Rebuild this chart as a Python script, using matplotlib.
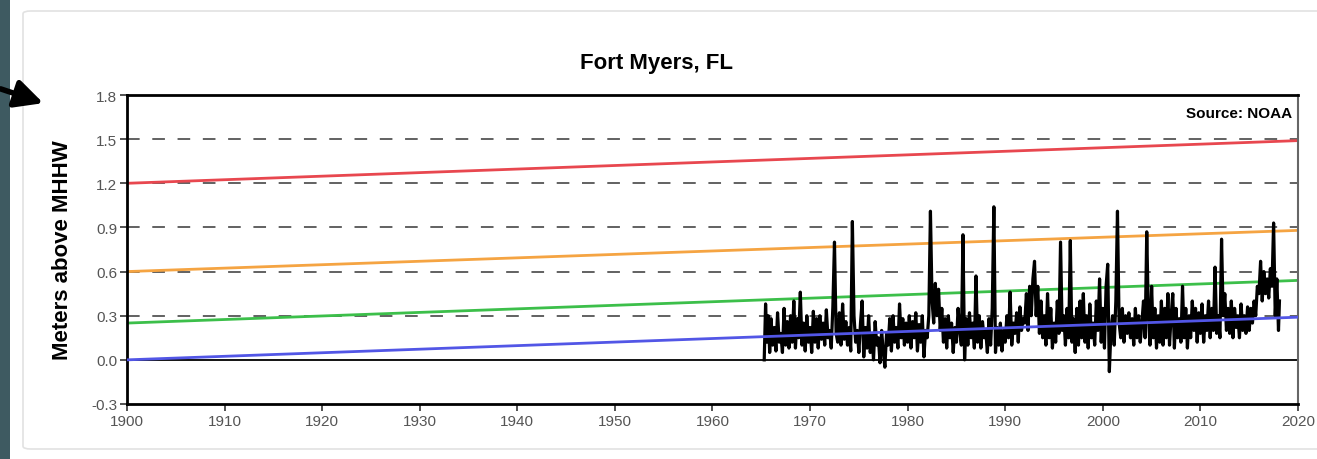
import numpy as np
import matplotlib.pyplot as plt
from matplotlib.patches import FancyBboxPatch, Rectangle, FancyArrowPatch

plt.rcParams['font.family'] = ['Liberation Sans', 'DejaVu Sans']

# reference lines (start 1900 / end 2020)
line_years = [1900, 2020]
red_line = [1.20, 1.49]
orange_line = [0.60, 0.88]
green_line = [0.25, 0.54]
blue_line = [0.00, 0.29]

# water level, ~6 readings per year, 1965.3 - 2018.2
water = {
    1965: [0.00, 0.38, 0.12, 0.30, 0.05],
    1966: [0.28, 0.10, 0.22, 0.06, 0.32, 0.12],
    1967: [0.18, 0.05, 0.35, 0.10, 0.26, 0.08],
    1968: [0.30, 0.12, 0.40, 0.08, 0.28, 0.15],
    1969: [0.46, 0.10, 0.25, 0.06, 0.30, 0.12],
    1970: [0.22, 0.05, 0.33, 0.12, 0.28, 0.08],
    1971: [0.30, 0.14, 0.25, 0.10, 0.34, 0.15],
    1972: [0.20, 0.08, 0.36, 0.80, 0.18, 0.12],
    1973: [0.32, 0.10, 0.38, 0.14, 0.26, 0.10],
    1974: [0.22, 0.06, 0.94, 0.30, 0.12, 0.20],
    1975: [0.05, 0.25, 0.40, 0.02, 0.22, 0.08],
    1976: [0.30, 0.05, 0.18, 0.00, 0.26, 0.10],
    1977: [0.15, -0.02, 0.20, 0.05, -0.05, 0.18],
    1978: [0.10, 0.28, 0.06, 0.30, 0.12, 0.22],
    1979: [0.08, 0.38, 0.15, 0.28, 0.10, 0.25],
    1980: [0.12, 0.30, 0.08, 0.26, 0.15, 0.32],
    1981: [0.06, 0.24, 0.12, 0.30, 0.02, 0.20],
    1982: [0.15, 0.30, 1.01, 0.40, 0.25, 0.52],
    1983: [0.30, 0.48, 0.20, 0.35, 0.12, 0.28],
    1984: [0.08, 0.30, 0.15, 0.25, 0.05, 0.22],
    1985: [0.12, 0.35, 0.20, 0.10, 0.85, 0.00],
    1986: [0.28, 0.10, 0.32, 0.15, 0.25, 0.08],
    1987: [0.57, 0.12, 0.30, 0.08, 0.26, 0.15],
    1988: [0.20, 0.05, 0.28, 0.10, 0.35, 1.04],
    1989: [0.05, 0.22, 0.10, 0.25, 0.06, 0.20],
    1990: [0.12, 0.30, 0.15, 0.46, 0.10, 0.25],
    1991: [0.18, 0.32, 0.12, 0.36, 0.20, 0.28],
    1992: [0.25, 0.45, 0.20, 0.50, 0.30, 0.55],
    1993: [0.67, 0.30, 0.50, 0.18, 0.40, 0.15],
    1994: [0.30, 0.10, 0.45, 0.15, 0.35, 0.08],
    1995: [0.25, 0.12, 0.40, 0.18, 0.80, 0.20],
    1996: [0.30, 0.10, 0.35, 0.15, 0.81, 0.12],
    1997: [0.28, 0.05, 0.35, 0.10, 0.40, 0.15],
    1998: [0.45, 0.12, 0.30, 0.08, 0.38, 0.15],
    1999: [0.25, 0.10, 0.40, 0.20, 0.55, 0.12],
    2000: [0.35, 0.08, 0.50, 0.65, -0.08, 0.20],
    2001: [0.30, 0.10, 0.40, 1.01, 0.25, 0.15],
    2002: [0.35, 0.12, 0.30, 0.18, 0.32, 0.15],
    2003: [0.28, 0.10, 0.35, 0.15, 0.30, 0.12],
    2004: [0.25, 0.40, 0.15, 0.87, 0.30, 0.10],
    2005: [0.50, 0.15, 0.35, 0.08, 0.30, 0.12],
    2006: [0.40, 0.10, 0.35, 0.15, 0.45, 0.10],
    2007: [0.30, 0.45, 0.08, 0.35, 0.15, 0.28],
    2008: [0.12, 0.50, 0.15, 0.35, 0.08, 0.30],
    2009: [0.15, 0.40, 0.20, 0.35, 0.12, 0.32],
    2010: [0.18, 0.38, 0.12, 0.30, 0.20, 0.40],
    2011: [0.15, 0.35, 0.20, 0.63, 0.18, 0.30],
    2012: [0.15, 0.82, 0.30, 0.45, 0.20, 0.35],
    2013: [0.18, 0.40, 0.15, 0.35, 0.22, 0.30],
    2014: [0.15, 0.38, 0.20, 0.30, 0.18, 0.36],
    2015: [0.20, 0.35, 0.25, 0.40, 0.30, 0.50],
    2016: [0.45, 0.67, 0.40, 0.60, 0.45, 0.55],
    2017: [0.42, 0.62, 0.50, 0.93, 0.30, 0.55],
    2018: [0.20, 0.40],
}

# place readings evenly within each year
wx, wy = [], []
for yr, vals in water.items():
    n = len(vals)
    start = 1965.3 if yr == 1965 else yr
    step = (yr + 1 - start) / n if yr != 2018 else 0.1
    for i, v in enumerate(vals):
        wx.append(start + i * step)
        wy.append(v)

fig = plt.figure(figsize=(13.17, 4.60), dpi=100)

# page decoration: dark strip, card border, arrow (behind the axes)
fig.patches.append(Rectangle((0, 0), 10 / 1317, 1, transform=fig.transFigure,
                             facecolor='#3e5a61', edgecolor='none', zorder=-2))
fig.patches.append(FancyBboxPatch((23 / 1317, 10 / 460), 1.02, 438 / 460,
                                  boxstyle='round,pad=0,rounding_size=0.006',
                                  transform=fig.transFigure, facecolor='white',
                                  edgecolor='#e2e2e2', linewidth=1.2, zorder=-2))
fig.patches.append(FancyArrowPatch((-2 / 1317, 1 - 89 / 460), (46 / 1317, 1 - 105 / 460),
                                   transform=fig.transFigure, arrowstyle='-|>',
                                   mutation_scale=42, color='black', linewidth=4,
                                   zorder=-1))

ax = fig.add_axes([127 / 1317, 1 - 405 / 460, (1298 - 127) / 1317, (405 - 96) / 460])
ax.set_facecolor('white')

for lvl in [0.3, 0.6, 0.9, 1.2, 1.5]:
    ax.axhline(lvl, color='#555555', linewidth=1.3, dashes=(7, 7), zorder=1)
ax.axhline(0.0, color='black', linewidth=1.3, zorder=1)

ax.plot(line_years, red_line, color='#e8474f', linewidth=2, zorder=2)
ax.plot(line_years, orange_line, color='#f5a442', linewidth=2, zorder=2)
ax.plot(line_years, green_line, color='#3cbf4a', linewidth=2, zorder=2)
ax.plot(line_years, blue_line, color='#5256e6', linewidth=2, zorder=4)
ax.plot(wx, wy, color='black', linewidth=2.3, zorder=3)

ax.set_xlim(1900, 2020)
ax.set_ylim(-0.3, 1.8)
ax.set_xticks(range(1900, 2021, 10))
ax.set_yticks([-0.3, 0.0, 0.3, 0.6, 0.9, 1.2, 1.5, 1.8])
ax.set_yticklabels(['-0.3', '0.0', '0.3', '0.6', '0.9', '1.2', '1.5', '1.8'])
ax.tick_params(direction='out', length=5, width=1.2, colors='#333333',
               labelcolor='#555555', labelsize=11, pad=2)
for side in ['left', 'bottom', 'top']:
    ax.spines[side].set_linewidth(2)
    ax.spines[side].set_color('black')
ax.spines['right'].set_linewidth(1.5)
ax.spines['right'].set_color('#666666')

ax.set_ylabel('Meters above MHHW', fontsize=16, fontweight='bold', labelpad=13)
ax.text(0.995, 0.965, 'Source: NOAA', transform=ax.transAxes, ha='right', va='top',
        fontsize=11, fontweight='bold')
fig.text(656 / 1317, 1 - 64 / 460, 'Fort Myers, FL', ha='center', va='center',
         fontsize=16, fontweight='bold')

fig.savefig('out.png', dpi=100)
